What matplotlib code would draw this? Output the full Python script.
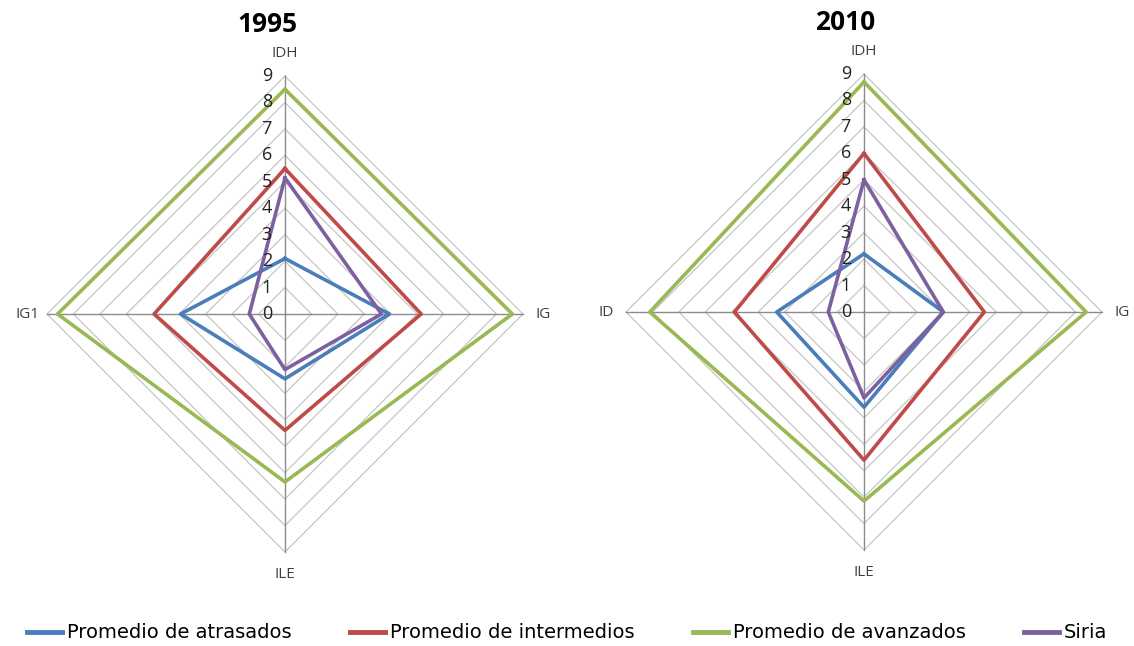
import numpy as np
import matplotlib
matplotlib.use("Agg")
import matplotlib.pyplot as plt
from matplotlib.lines import Line2D

plt.rcParams["font.family"] = ["Open Sans", "DejaVu Sans"]

# datos
series = ["Promedio de atrasados", "Promedio de intermedios", "Promedio de avanzados", "Siria"]
colores = ["#4a7ebb", "#be4b48", "#98b954", "#7d60a0"]

ejes_1995 = ["IDH", "IG", "ILE", "IG1"]
ejes_2010 = ["IDH", "IG", "ILE", "ID"]

atrasados_1995 = [2.1, 3.95, 2.45, 3.95]
intermedios_1995 = [5.5, 5.15, 4.4, 4.95]
avanzados_1995 = [8.5, 8.6, 6.35, 8.6]
siria_1995 = [5.15, 3.65, 2.1, 1.35]

atrasados_2010 = [2.2, 3.0, 3.6, 3.3]
intermedios_2010 = [6.0, 4.55, 5.6, 4.9]
avanzados_2010 = [8.7, 8.4, 7.15, 8.1]
siria_2010 = [5.0, 3.0, 3.25, 1.35]

escala = list(range(0, 10))


def radar(ax, ejes, valores):
    angulos = np.linspace(0, 2 * np.pi, len(ejes), endpoint=False)
    cerrado = np.concatenate([angulos, angulos[:1]])

    ax.set_theta_zero_location("N")
    ax.set_theta_direction(-1)
    ax.set_ylim(0, 9)
    ax.grid(False)
    ax.set_xticks([])
    ax.set_yticks([])
    ax.spines["polar"].set_visible(False)
    ax.patch.set_visible(False)

    # rejilla en forma de rombo
    for r in escala[1:]:
        ax.plot(cerrado, [r] * len(cerrado), color="#c6c6c6", lw=0.9, zorder=1, clip_on=False)
    for a in angulos:
        ax.plot([a, a], [0, 9], color="#8c8c8c", lw=1.0, zorder=1, clip_on=False)

    for vals, color in zip(valores, colores):
        ax.plot(cerrado, list(vals) + [vals[0]], color=color, lw=2.6, zorder=3, clip_on=False)

    for a, nombre in zip(angulos, ejes):
        r = 9.85 if nombre in ("IDH", "ILE") else 9.75
        ax.text(a, r, nombre, ha="center", va="center", fontsize=11, color="#404040")

    for k in escala:
        ax.annotate(str(k), xy=(0, k), xytext=(-13, 0), textcoords="offset pixels",
                    ha="right", va="center", fontsize=13, color="#222222", zorder=4)


fig = plt.figure(figsize=(11.34, 6.46), dpi=100)

ax1 = fig.add_axes([0.0414, 0.1455, 0.4198, 0.7368], projection="polar")
radar(ax1, ejes_1995, [atrasados_1995, intermedios_1995, avanzados_1995, siria_1995])

ax2 = fig.add_axes([0.552, 0.1486, 0.4198, 0.7368], projection="polar")
radar(ax2, ejes_2010, [atrasados_2010, intermedios_2010, avanzados_2010, siria_2010])

fig.text(267 / 1134, 1 - 24 / 646, "1995", ha="center", va="center", fontsize=19, fontweight="bold")
fig.text(845 / 1134, 1 - 22 / 646, "2010", ha="center", va="center", fontsize=19, fontweight="bold")

manejadores = [Line2D([0], [0], color=c, lw=3.5) for c in colores]
fig.legend(manejadores, series, loc="center", bbox_to_anchor=(0.5, 1 - 633 / 646), ncol=4,
           frameon=False, handlelength=1.8, handletextpad=0.25, columnspacing=3.0,
           prop={"family": ["DejaVu Sans"], "size": 14})

fig.savefig("out.png", dpi=100)
plt.close(fig)
